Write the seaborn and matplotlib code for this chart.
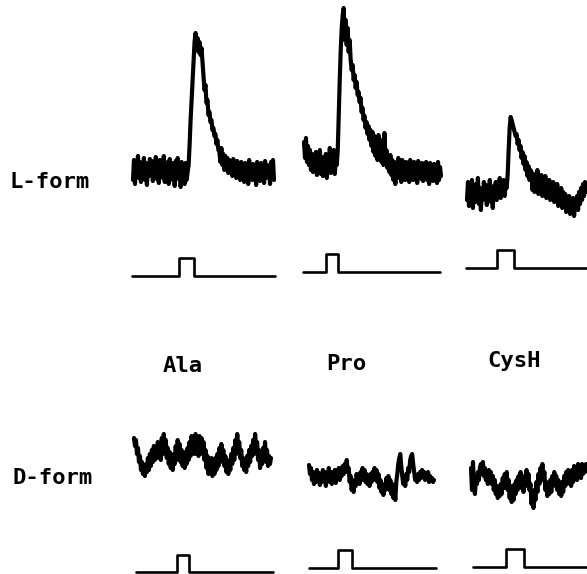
import numpy as np
import pandas as pd
import matplotlib
matplotlib.use("Agg")
import matplotlib.pyplot as plt
import seaborn as sns

# ---------------- data ----------------
row_labels = ["L-form", "D-form"]
amino_acids = ["Ala", "Pro", "CysH"]

# response traces (arbitrary units, one sample per time step)
ala_L = [40, 60, 36, 55, 48, 64, 42, 58, 38, 52, 46, 62, 40, 57, 35, 50, 44, 61, 47, 59,
         39, 54, 45, 63, 41, 56, 37, 60, 49, 55, 42, 64, 38, 53, 46, 58, 36, 61, 43, 57,
         40, 52, 34, 59, 45, 62, 41, 55, 33, 58, 44, 50, 36, 57, 40, 48,
         55, 75, 100, 120, 140, 160, 178, 187,
         172, 182, 168, 178, 165, 172, 158,
         145, 130, 135, 117, 120, 105, 108, 98, 100, 90, 92, 84, 86, 76, 80, 70,
         68, 58, 72, 55, 66, 50, 64, 54, 62, 47, 60, 52, 58, 44, 61, 49, 56, 42, 59, 50,
         55, 40, 58, 47, 54, 38, 57, 45, 53, 36, 60, 44, 52, 40, 56, 46, 50, 35, 58, 43,
         54, 39, 57, 46, 52, 37, 59, 42, 55, 48, 53, 36, 58, 44, 60, 40]
pro_L = [78, 62, 82, 58, 74, 55, 70, 50, 66, 48, 64, 52, 68, 45, 60, 50, 70, 46, 63, 44,
         58, 48, 66, 42, 62, 50, 72, 47, 65, 52, 70, 46, 62, 55,
         70, 105, 140, 170, 192, 205, 212,
         180, 200, 175, 192, 168, 180, 160,
         150, 155, 140, 145, 132, 138, 125, 128, 118, 122,
         108, 112, 100, 104, 92, 98, 86, 94, 80, 90,
         74, 88, 68, 84, 64, 78, 60, 85, 62, 72,
         58, 80, 55, 87, 56, 70, 52,
         62, 48, 65, 45, 60, 40, 58, 36, 55, 44, 62, 42, 57, 38, 60, 46, 54, 40, 58, 44,
         52, 38, 60, 45, 56, 40, 58, 43, 54, 37, 59, 46, 55, 41, 57, 39, 53, 45, 58, 40,
         55, 36, 57, 44, 52, 39, 56, 42, 54, 37, 58, 40, 53, 44]
cysh_L = [20, 38, 14, 34, 22, 40, 12, 30, 18, 36, 24, 42, 16, 32, 10, 28, 20, 38, 26, 35,
          15, 33, 22, 40, 18, 30, 12, 34, 25, 38, 20, 36, 28, 42, 22, 38, 30, 40, 24, 36, 32,
          45, 70, 92, 103,
          100, 96, 92, 88, 84, 86, 76, 80, 70, 74, 62, 68, 56, 64, 50, 58, 44, 54, 40, 50,
          48, 30, 46, 28, 44, 34, 50, 26, 42, 32, 45, 24, 40, 30, 44, 22, 38, 28, 40, 20,
          36, 26, 38, 18, 34, 24, 36, 14, 30, 20, 32, 12, 28, 16, 26, 8, 22, 14, 24, 6,
          20, 10, 22, 4, 18, 12, 24, 10, 28, 16, 32, 20, 36, 24, 38, 28]
ala_D = [82, 74, 80, 66, 72, 58, 64, 50, 58, 46, 54, 44, 56, 48, 62, 50, 66, 54, 70, 58,
         74, 60, 72, 62, 78, 64, 76, 60, 82, 66, 86, 70, 80, 62, 72, 56, 68, 52, 64, 50,
         66, 56, 74, 60, 80, 64, 76, 58, 70, 54, 68, 52, 64, 56, 72, 60, 78, 64, 84, 70,
         80, 66, 86, 68, 78, 64, 84, 70, 82, 66, 78, 60, 70, 52, 64, 46, 60, 48, 62, 44,
         58, 46, 62, 50, 66, 54, 72, 58, 76, 62, 70, 54, 64, 48, 60, 46, 58, 50, 66, 56,
         72, 60, 80, 66, 86, 70, 78, 62, 70, 54, 62, 50, 58, 48, 64, 54, 70, 58, 74, 64,
         80, 66, 86, 70, 78, 60, 70, 52, 64, 56, 72, 62, 78, 58, 70, 54, 64, 56, 62]
pro_D = [55, 46, 52, 40, 48, 36, 46, 38, 50, 40, 47, 35, 45, 38, 50, 42, 48, 34, 46, 40,
         52, 38, 48, 36, 44, 40, 50, 37, 47, 42, 52, 40, 48, 44, 54, 46, 56, 48, 60, 50,
         52, 38, 44, 30, 38, 28, 40, 34, 46, 38, 44, 36, 48, 40, 52, 42, 50, 38, 46, 36,
         42, 34, 46, 38, 48, 40, 52, 42, 50, 38, 46, 32, 40, 28, 36, 25, 34, 30, 42, 34,
         44, 30, 40, 26, 36, 22, 30, 20, 38, 46, 56, 62, 66, 54, 44, 36, 42, 34, 46, 40,
         52, 48, 60, 64, 66, 56, 48, 40, 44, 38, 46, 40, 48, 42, 50, 44, 48, 40, 46, 42,
         48, 38, 44, 40, 42, 38, 40]
cysh_D = [52, 30, 58, 34, 26, 44, 36, 48, 40, 52, 56, 46, 58, 44, 52, 40, 48, 36, 50, 42,
          48, 36, 44, 30, 40, 26, 34, 22, 30, 24, 36, 26, 42, 32, 46, 36, 48, 30, 40, 22,
          34, 18, 28, 20, 36, 26, 40, 30, 44, 32, 48, 36, 44, 28, 40, 34, 50, 38, 46, 30,
          36, 16, 24, 12, 30, 20, 38, 28, 46, 36, 52, 42, 56, 40, 48, 30, 38, 24, 34, 26,
          40, 28, 44, 34, 48, 38, 44, 30, 40, 26, 36, 24, 38, 28, 44, 34, 48, 36, 50, 40,
          46, 34, 50, 38, 54, 42, 52, 40, 56, 44, 52, 42, 56, 46, 54, 48, 56]

# stimulus pulses: onset, offset, end (time units)
pulse_on = {"Ala L": 47, "Pro L": 23, "CysH L": 31, "Ala D": 41, "Pro D": 29, "CysH D": 33}
pulse_off = {"Ala L": 62, "Pro L": 35, "CysH L": 48, "Ala D": 53, "Pro D": 43, "CysH D": 51}
pulse_end = {"Ala L": 143, "Pro L": 137, "CysH L": 121, "Ala D": 137, "Pro D": 127, "CysH D": 114}

traces = {"Ala L": ala_L, "Pro L": pro_L, "CysH L": cysh_L,
          "Ala D": ala_D, "Pro D": pro_D, "CysH D": cysh_D}

# ---------------- layout (pixels) ----------------
W, H = 587, 574
sns.set_style("white")
plt.rcParams["font.family"] = ["DejaVu Sans Mono", "DejaVu Sans"]
fig = plt.figure(figsize=(W / 100, H / 100), dpi=100)


def px_axes(x0, x1, y_top, y_bot):
    ax = fig.add_axes([x0 / W, 1 - y_bot / H, (x1 - x0) / W, (y_bot - y_top) / H])
    ax.set_axis_off()
    return ax


# trace boxes: x start, x end, row top, row bottom, y-range
trace_box = {"Ala L": (133, 274, 0, 220, 220), "Pro L": (304, 441, 0, 220, 220),
             "CysH L": (467, 586, 0, 220, 220),
             "Ala D": (134, 271, 420, 520, 100), "Pro D": (309, 434, 420, 520, 100),
             "CysH D": (471, 586, 420, 520, 100)}
pulse_box = {"Ala L": (132, 275, 258, 276), "Pro L": (303, 440, 254, 272),
             "CysH L": (466, 587, 250, 268),
             "Ala D": (136, 273, 555, 572), "Pro D": (309, 436, 550, 568),
             "CysH D": (473, 587, 549, 567)}

for key, vals in traces.items():
    x0, x1, yt, yb, yr = trace_box[key]
    ax = px_axes(x0, x1, yt, yb)
    df = pd.DataFrame({"t": np.arange(len(vals)), "v": vals})
    sns.lineplot(data=df, x="t", y="v", ax=ax, color="black", lw=3.0,
                 estimator=None, sort=False, clip_on=False)
    ax.set_xlim(0, len(vals) - 1)
    ax.set_ylim(0, yr)
    ax.set_axis_off()

for key in traces:
    x0, x1, yt, yb = pulse_box[key]
    ax = px_axes(x0, x1, yt, yb)
    on, off, end = pulse_on[key], pulse_off[key], pulse_end[key]
    pdf = pd.DataFrame({"t": [0, on, on, off, off, end], "v": [0, 0, 1, 1, 0, 0]})
    sns.lineplot(data=pdf, x="t", y="v", ax=ax, color="black", lw=1.9,
                 estimator=None, sort=False, clip_on=False)
    ax.set_xlim(0, end)
    ax.set_ylim(0, 1)
    ax.set_axis_off()

# ---------------- text ----------------
fs = 16
tw = "bold"
fig.text(9 / W, 1 - 188 / H, row_labels[0], fontsize=fs, ha="left", va="baseline",
         color="black", fontweight=tw)
fig.text(13 / W, 1 - 484 / H, row_labels[1], fontsize=fs, ha="left", va="baseline",
         color="black", fontweight=tw)
label_pos = [(182.5, 372), (346, 370), (514, 367)]
for name, (cx, by) in zip(amino_acids, label_pos):
    fig.text(cx / W, 1 - by / H, name, fontsize=fs, ha="center", va="baseline",
             color="black", fontweight=tw)

fig.savefig("out.png", dpi=100, facecolor="white")
